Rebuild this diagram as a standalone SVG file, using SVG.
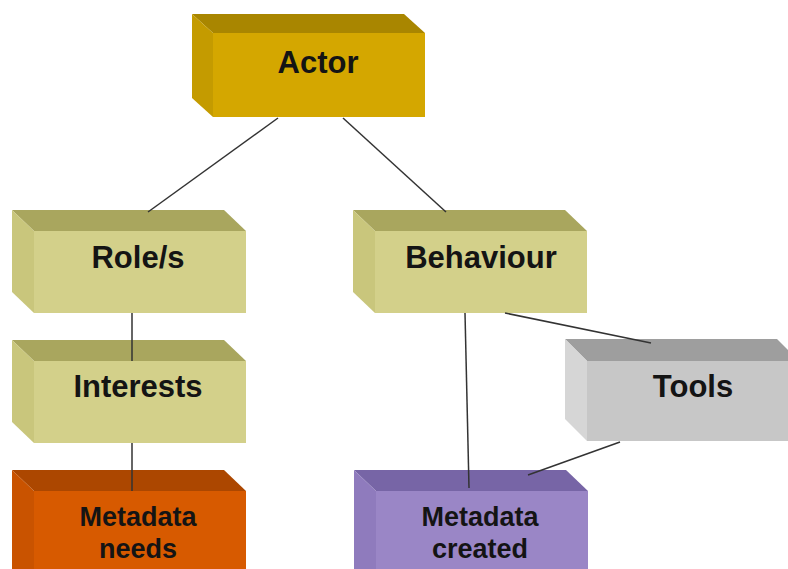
<svg xmlns="http://www.w3.org/2000/svg" width="788" height="569" viewBox="0 0 788 569">
<style>
.lbl{font-family:"Liberation Sans",Arial,sans-serif;font-weight:bold;fill:#141414;text-anchor:middle}
.big{font-size:31px}
.sm{font-size:27px}
.conn line{stroke:#333;stroke-width:1.5}
.gold .f{fill:#D4A700}.gold .t{fill:#A98600}.gold .s{fill:#C49B00}
.olive .f{fill:#D3D08A}.olive .t{fill:#A9A65E}.olive .s{fill:#C9C67C}
.grey .f{fill:#C7C7C7}.grey .t{fill:#9E9E9E}.grey .s{fill:#D6D6D6}
.orange .f{fill:#D75A00}.orange .t{fill:#AC4700}.orange .s{fill:#C95300}
.purple .f{fill:#9A86C6}.purple .t{fill:#7765A6}.purple .s{fill:#8F7BBD}
</style>
<rect width="788" height="569" fill="#ffffff"/>
<g id="actor" class="gold">
<polygon class="t" points="192,14 404,14 425,33 213,33"/>
<polygon class="s" points="192,14 213,33 213,117 192,98"/>
<rect class="f" x="213" y="33" width="212" height="84"/>
<text class="lbl big" x="318" y="73">Actor</text>
</g>
<g id="roles" class="olive">
<polygon class="t" points="12,210 224,210 246,231 34,231"/>
<polygon class="s" points="12,210 34,231 34,313 12,292"/>
<rect class="f" x="34" y="231" width="212" height="82"/>
<text class="lbl big" x="138" y="268">Role/s</text>
</g>
<g id="interests" class="olive">
<polygon class="t" points="12,340 224,340 246,361 34,361"/>
<polygon class="s" points="12,340 34,361 34,443 12,422"/>
<rect class="f" x="34" y="361" width="212" height="82"/>
<text class="lbl big" x="138" y="397">Interests</text>
</g>
<g id="metadata-needs" class="orange">
<polygon class="t" points="12,470 224,470 246,491 34,491"/>
<polygon class="s" points="12,470 34,491 34,575 12,575"/>
<rect class="f" x="34" y="491" width="212" height="90"/>
<text class="lbl sm" x="138" y="526">Metadata</text>
<text class="lbl sm" x="138" y="558">needs</text>
</g>
<g id="behaviour" class="olive">
<polygon class="t" points="353,210 565,210 587,231 375,231"/>
<polygon class="s" points="353,210 375,231 375,313 353,292"/>
<rect class="f" x="375" y="231" width="212" height="82"/>
<text class="lbl big" x="481" y="268">Behaviour</text>
</g>
<g id="tools" class="grey">
<polygon class="t" points="565,339 777,339 799,361 587,361"/>
<polygon class="s" points="565,339 587,361 587,441 565,419"/>
<rect class="f" x="587" y="361" width="212" height="80"/>
<text class="lbl big" x="693" y="397">Tools</text>
</g>
<g id="metadata-created" class="purple">
<polygon class="t" points="354,470 566,470 588,491 376,491"/>
<polygon class="s" points="354,470 376,491 376,575 354,575"/>
<rect class="f" x="376" y="491" width="212" height="90"/>
<text class="lbl sm" x="480" y="526">Metadata</text>
<text class="lbl sm" x="480" y="558">created</text>
</g>
<g id="connectors" class="conn">
<line x1="278" y1="118" x2="148" y2="212"/>
<line x1="343" y1="118" x2="446" y2="212"/>
<line x1="132" y1="313" x2="132" y2="361"/>
<line x1="132" y1="443" x2="132" y2="491"/>
<line x1="465" y1="313" x2="469" y2="488"/>
<line x1="505" y1="313" x2="651" y2="343"/>
<line x1="620" y1="442" x2="528" y2="475"/>
</g>
</svg>
